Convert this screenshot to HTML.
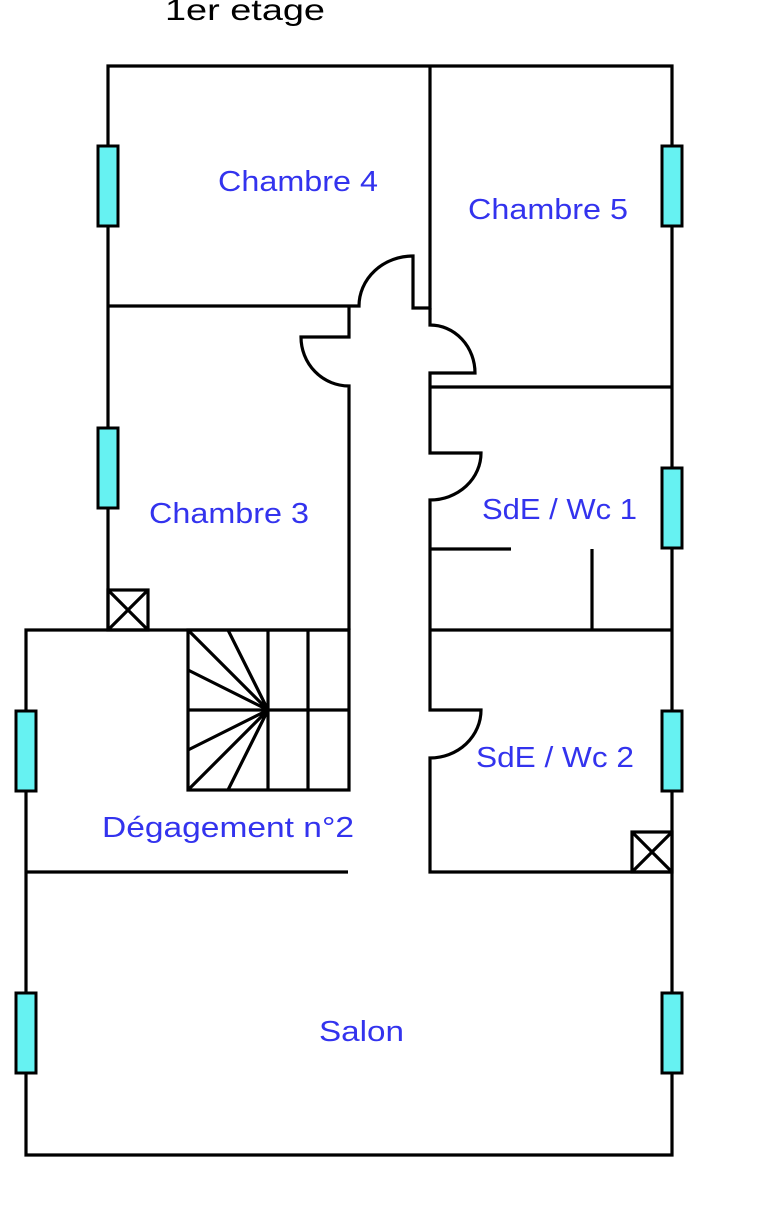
<!DOCTYPE html>
<html><head><meta charset="utf-8"><style>
html,body{margin:0;padding:0;background:#fff;width:760px;height:1226px;overflow:hidden}
svg{display:block}
text{font-family:"Liberation Sans",sans-serif}
</style></head><body>
<svg width="760" height="1226" viewBox="0 0 760 1226" xmlns="http://www.w3.org/2000/svg">
<text x="165" y="20" font-size="30" fill="#000" textLength="160" lengthAdjust="spacingAndGlyphs">1er etage</text>
<g fill="none" stroke="#000" stroke-width="3.2" stroke-linejoin="miter">
<path d="M108 630 V66 H672 V1155 H26 V630 H349"/>
<path d="M430 66 V308 H413 V256 A54 50 0 0 0 359 306 H108"/>
<path d="M349 306 V337 H301 A48 49 0 0 0 349 386 V630"/>
<path d="M430 308 V325 A45 48 0 0 1 475 373 H430 V453 H481 A51 47 0 0 1 430 500 V710 H481 A51 48 0 0 1 430 758 V872 H672"/>
<path d="M430 387 H672"/>
<path d="M430 549 H511"/>
<path d="M592 549 V630"/>
<path d="M430 630 H672"/>
<path d="M26 872 H348"/>
<rect x="108" y="590" width="40" height="40"/>
<path d="M108 590 L148 630 M148 590 L108 630"/>
<rect x="632" y="832" width="40" height="40"/>
<path d="M632 832 L672 872 M672 832 L632 872"/>
<rect x="188" y="630" width="161" height="160"/>
<path d="M188 710 H349 M268 630 V790 M308 630 V790"/>
<path d="M268 710 L188 630 M268 710 L228 630 M268 710 L188 670 M268 710 L188 750 M268 710 L188 790 M268 710 L228 790"/>
</g>
<g fill="#66f2f2" stroke="#000" stroke-width="3">
<rect x="98" y="146" width="20" height="80"/>
<rect x="98" y="428" width="20" height="80"/>
<rect x="16" y="711" width="20" height="80"/>
<rect x="16" y="993" width="20" height="80"/>
<rect x="662" y="146" width="20" height="80"/>
<rect x="662" y="468" width="20" height="80"/>
<rect x="662" y="711" width="20" height="80"/>
<rect x="662" y="993" width="20" height="80"/>
</g>
<g fill="#3333ee" font-size="29">
<text x="218" y="191" textLength="160" lengthAdjust="spacingAndGlyphs">Chambre 4</text>
<text x="468" y="219" textLength="160" lengthAdjust="spacingAndGlyphs">Chambre 5</text>
<text x="149" y="523" textLength="160" lengthAdjust="spacingAndGlyphs">Chambre 3</text>
<text x="482" y="519" textLength="155" lengthAdjust="spacingAndGlyphs">SdE / Wc 1</text>
<text x="476" y="767" textLength="158" lengthAdjust="spacingAndGlyphs">SdE / Wc 2</text>
<text x="102" y="837" textLength="252" lengthAdjust="spacingAndGlyphs">Dégagement  n°2</text>
<text x="319" y="1041" textLength="85" lengthAdjust="spacingAndGlyphs">Salon</text>
</g>
</svg>
</body></html>
